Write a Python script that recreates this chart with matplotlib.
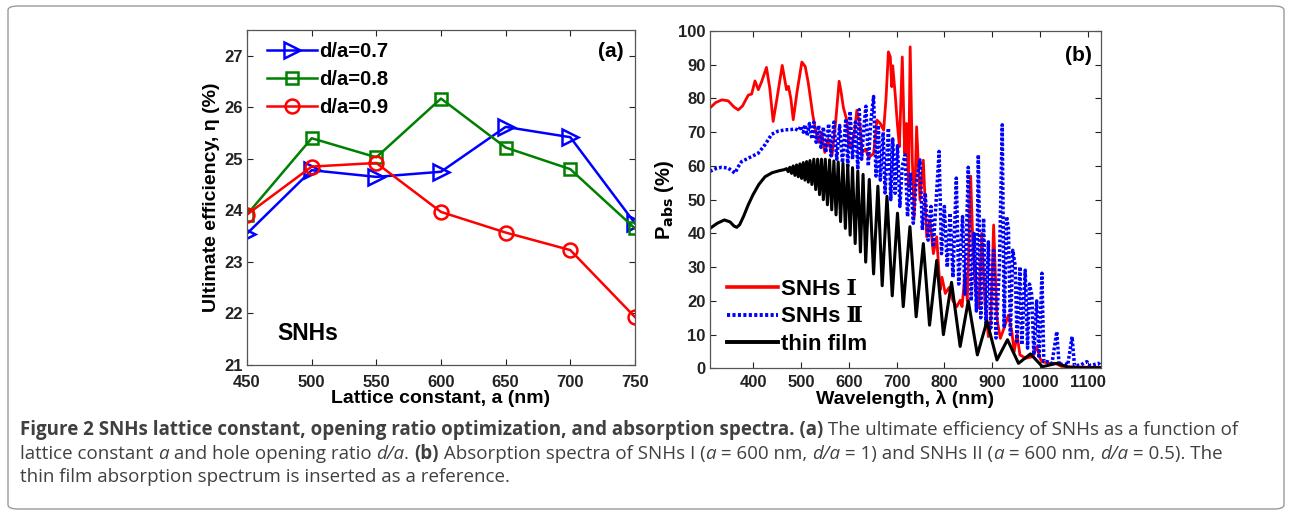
import matplotlib
matplotlib.use("Agg")
import matplotlib.pyplot as plt
from matplotlib.lines import Line2D
from matplotlib.patches import FancyBboxPatch

# ============= DATA: panel (a) =============
lattice = [450, 500, 550, 600, 650, 700, 750]
eff_07 = [23.55, 24.78, 24.65, 24.75, 25.62, 25.42, 23.75]
eff_08 = [23.92, 25.40, 25.03, 26.17, 25.22, 24.80, 23.65]
eff_09 = [23.92, 24.85, 24.92, 23.97, 23.57, 23.23, 21.93]

# ============= DATA: panel (b) =============
film_wl = [310, 325, 340, 352, 360, 366, 372, 380, 390, 400, 412, 425, 440, 455, 465,
           470, 473.5, 477, 480.5, 484, 487.5, 491, 494.5, 498, 501.5, 505, 508.5, 512, 515.5, 519,
           523, 527, 531, 535, 539, 543, 547, 551, 555.5, 560, 564.5, 569, 573.5, 578, 583,
           588, 593, 598, 603, 608, 613.5, 619, 624.5, 630, 635.5, 643, 652,
           661, 670, 680, 691, 702, 714, 728, 741, 756, 769, 784, 798, 815, 833, 850,
           869, 889, 910, 932, 955, 980, 1005, 1035, 1060, 1090, 1127]
film_abs = [41.5, 43.0, 44.0, 43.4, 42.2, 41.8, 42.6, 45.0, 48.5, 51.5, 54.5, 56.8, 58.0, 58.6, 58.9,
            59.2, 58.3, 59.6, 57.8, 60.0, 57.2, 60.3, 56.8, 60.6, 56.3, 61.0, 55.8, 61.3, 55.2, 61.6,
            54.5, 62.0, 53.0, 62.0, 51.5, 62.0, 50.0, 62.0, 48.5, 61.8, 47.0, 61.5, 45.5, 61.2, 43.5,
            60.8, 41.5, 60.2, 39.5, 59.5, 37.0, 58.5, 34.5, 57.5, 31.5, 56.0, 28.0,
            54.0, 24.5, 51.0, 21.5, 46.0, 18.3, 42.0, 15.3, 37.0, 12.8, 32.0, 10.0, 25.5, 6.5, 20.0,
            4.0, 14.0, 2.5, 8.5, 1.5, 4.3, 0.5, 1.5, 0.3, 0.2, 0.2]

snh1_wl = [310, 322, 335, 348, 360, 369, 378, 390, 397, 404, 411, 418, 428, 435, 442,
           450, 461, 467, 470, 474, 479, 484, 492, 502, 509, 515, 519, 525, 530, 537,
           543, 550, 557, 565, 572, 580, 584, 589, 596, 601, 606, 612, 617, 624, 627,
           635, 642, 652, 659, 666, 673, 678, 683, 687, 690, 692, 697, 702, 706, 712,
           717, 721, 725, 728.5, 733, 737, 742, 749, 756, 763, 770, 777, 784, 791, 795,
           802, 810, 818, 826, 833, 837, 843, 848, 855, 860, 866, 872, 878, 885, 892,
           897, 903, 910, 917, 925, 934, 941, 946, 952, 958, 970, 985, 993, 1000, 1004,
           1020, 1032, 1045, 1080, 1127]
snh1_abs = [77.2, 78.8, 79.6, 79.3, 77.5, 76.6, 77.8, 81.0, 81.3, 85.2, 82.6, 85.0, 89.2, 83.0, 73.2,
            80.0, 89.8, 85.0, 82.6, 83.6, 80.0, 73.7, 82.0, 90.8, 89.5, 85.0, 81.1, 75.0, 71.2, 67.0,
            70.0, 64.0, 68.0, 63.0, 72.0, 85.1, 82.0, 77.2, 73.6, 66.0, 65.7, 70.0, 76.5, 71.6, 63.7,
            65.0, 62.5, 63.7, 73.6, 72.6, 70.6, 80.0, 93.8, 92.3, 83.5, 89.7, 81.5, 72.0, 65.7, 92.3,
            63.7, 72.6, 53.8, 95.3, 61.7, 44.9, 71.6, 49.9, 61.7, 39.0, 44.0, 34.0, 39.0, 23.2, 27.0,
            22.2, 24.0, 20.0, 18.3, 20.2, 18.3, 28.0, 20.0, 57.0, 35.0, 22.0, 18.0, 40.0, 19.3, 9.4,
            14.0, 42.5, 14.8, 8.9, 12.0, 15.8, 10.9, 5.0, 10.0, 4.0, 3.0, 3.5, 6.5, 3.0, 2.0,
            1.5, 1.5, 0.6, 0.4, 0.3]

snh2_wl = [310, 322, 334, 348, 356, 362, 370, 376, 390, 400, 411, 425, 439, 452, 467,
           480, 488, 495, 500, 505, 509, 513, 518, 523, 527, 532, 537, 542, 547, 552,
           558, 563, 569, 575, 581, 587, 594, 598, 603, 608, 614, 619, 622, 627, 632,
           636, 641, 646, 652, 657, 662, 666, 672, 676, 683, 688, 692, 697, 702, 707,
           712, 718, 723, 729, 735, 741, 749, 754, 760, 766, 772, 777, 789, 794, 800,
           806, 812, 818, 825, 830, 838, 843, 850, 856, 862, 867, 871, 876, 882, 887,
           892, 897, 903, 908, 915, 921, 925, 930, 934, 938, 943, 948, 952, 958, 962,
           969, 974, 978, 983, 987, 993, 998, 1004, 1008, 1015, 1025, 1035, 1040, 1050, 1058,
           1067, 1072, 1085, 1098, 1105, 1122, 1127]
snh2_abs = [58.4, 59.2, 59.6, 59.4, 58.5, 57.9, 60.0, 61.3, 62.3, 63.0, 63.8, 66.3, 69.4, 70.3, 70.7,
            70.8, 71.0, 70.5, 71.8, 70.0, 72.2, 69.0, 72.6, 68.0, 73.0, 67.0, 72.0, 65.5, 71.5, 64.0,
            72.5, 63.0, 73.0, 62.0, 72.0, 61.0, 74.0, 60.0, 76.2, 62.0, 73.0, 59.0, 76.7, 62.0, 72.0,
            77.7, 60.0, 73.0, 80.6, 57.0, 72.0, 55.8, 70.0, 52.0, 71.2, 50.0, 68.0, 51.9, 66.0, 48.0,
            60.0, 63.3, 45.0, 58.0, 43.0, 55.0, 61.8, 41.0, 52.0, 38.0, 48.0, 36.0, 64.3, 34.0, 48.0,
            30.0, 46.0, 27.0, 56.4, 25.0, 45.0, 22.0, 59.6, 20.0, 40.0, 17.0, 63.3, 15.0, 44.5, 13.0,
            37.5, 12.0, 35.0, 9.0, 30.0, 72.2, 12.0, 45.0, 41.5, 10.0, 35.0, 30.6, 8.0, 30.1, 7.0,
            29.1, 6.0, 25.0, 21.7, 4.0, 20.0, 3.0, 28.2, 2.0, 2.0, 1.5, 10.9, 1.0, 1.5, 1.0,
            9.4, 0.8, 1.0, 2.0, 0.8, 1.5, 0.8]

# ============= STYLE =============
plt.rcParams['font.family'] = ['Liberation Sans', 'DejaVu Sans']
plt.rcParams['font.weight'] = 'bold'
plt.rcParams['axes.labelweight'] = 'bold'
plt.rcParams['mathtext.default'] = 'bf'

fig = plt.figure(figsize=(12.9, 5.14), dpi=100)

# rounded frame around the whole figure
frame = FancyBboxPatch((8 / 1290, 5 / 514), 1276 / 1290, 503 / 514,
                       boxstyle="round,pad=0,rounding_size=0.008",
                       transform=fig.transFigure, fc='none', ec='#9a9a9a', lw=1.0)
fig.patches.append(frame)


def style_axes(ax, xpad=3):
    ax.tick_params(direction='in', top=True, right=True, length=4, width=0.8,
                   labelsize=12, colors='#222222', pad=3)
    ax.tick_params(axis='x', pad=xpad)
    for lab in ax.get_xticklabels() + ax.get_yticklabels():
        lab.set_fontweight('bold')
    for sp in ax.spines.values():
        sp.set_color('#555555')
        sp.set_linewidth(0.9)


# ============= PANEL (a) =============
ax1 = fig.add_axes([0.1915, 0.2899, 0.3007, 0.6517])
ax1.plot(lattice, eff_07, color='#0000ff', lw=1.8, marker='>', ms=11, mfc='none', mew=1.8, label='d/a=0.7')
ax1.plot(lattice, eff_08, color='#008000', lw=1.8, marker='s', ms=8, mfc='none', mew=1.8, label='d/a=0.8')
ax1.plot(lattice, eff_09, color='#ff0000', lw=1.8, marker='o', ms=10, mfc='none', mew=1.8, label='d/a=0.9')
ax1.set_xlim(450, 750)
ax1.set_ylim(21, 27.5)
ax1.set_xticks(lattice)
ax1.set_yticks([21, 22, 23, 24, 25, 26, 27])
style_axes(ax1, xpad=7)
ax1.set_xlabel('Lattice constant, a (nm)', fontsize=14, labelpad=0)
ax1.set_ylabel('Ultimate efficiency, η (%)', fontsize=14, labelpad=3)
ax1.legend(loc='upper left', bbox_to_anchor=(0.02, 1.0), frameon=False, fontsize=14.5,
           handlelength=2.5, handletextpad=0.1, labelspacing=0.45, borderaxespad=0.2)
ax1.text(0.938, 0.936, '(a)', transform=ax1.transAxes, ha='center', va='center', fontsize=15)
ax1.text(0.077, 0.093, 'SNHs', transform=ax1.transAxes, ha='left', va='center', fontsize=16.5)

# ============= PANEL (b) =============
ax2 = fig.add_axes([0.5504, 0.2833, 0.3029, 0.6564])
ax2.plot(snh1_wl, snh1_abs, color='#ff0000', lw=2.0)
ax2.plot(snh2_wl, snh2_abs, color='#0000ff', lw=2.5, linestyle=(0, (0.8, 0.6)))
ax2.plot(film_wl, film_abs, color='black', lw=2.2)
ax2.set_xlim(310, 1127)
ax2.set_ylim(0, 100)
ax2.set_xticks([400, 500, 600, 700, 800, 900, 1000, 1100])
ax2.set_yticks(range(0, 101, 10))
style_axes(ax2, xpad=5)
ax2.set_xlabel('Wavelength, λ (nm)', fontsize=14, labelpad=0)
ax2.set_ylabel(r'P$_{\mathbf{abs}}$ (%)', fontsize=14.5, labelpad=2)
handles = [Line2D([], [], color='#ff0000', lw=2.6),
           Line2D([], [], color='#0000ff', lw=2.8, linestyle=(0, (0.8, 0.6))),
           Line2D([], [], color='black', lw=2.8)]
leg = ax2.legend(handles, ['SNHs Ⅰ', 'SNHs Ⅱ', 'thin film'], loc='lower left',
                 bbox_to_anchor=(0.01, 0.0), frameon=False,
                 handlelength=2.3, handletextpad=0.1, labelspacing=0.3, borderaxespad=0.2,
                 prop={'family': ['Liberation Sans', 'DejaVu Serif'], 'weight': 'bold', 'size': 16})
ax2.text(0.944, 0.926, '(b)', transform=ax2.transAxes, ha='center', va='center', fontsize=15)

# ============= CAPTION =============
cap_size = 13.5
cap_family = ['Open Sans', 'DejaVu Sans']
cap_color = '#404040'
line1 = [("Figure 2 SNHs lattice constant, opening ratio optimization, and absorption spectra. (a)", 'bold', 'normal'),
         (" The ultimate efficiency of SNHs as a function of", 'normal', 'normal')]
line2 = [("lattice constant ", 'normal', 'normal'), ("a", 'normal', 'italic'),
         (" and hole opening ratio ", 'normal', 'normal'), ("d/a", 'normal', 'italic'),
         (". ", 'normal', 'normal'), ("(b)", 'bold', 'normal'),
         (" Absorption spectra of SNHs I (", 'normal', 'normal'), ("a", 'normal', 'italic'),
         (" = 600 nm, ", 'normal', 'normal'), ("d/a", 'normal', 'italic'),
         (" = 1) and SNHs II (", 'normal', 'normal'), ("a", 'normal', 'italic'),
         (" = 600 nm, ", 'normal', 'normal'), ("d/a", 'normal', 'italic'),
         (" = 0.5). The", 'normal', 'normal')]
line3 = [("thin film absorption spectrum is inserted as a reference.", 'normal', 'normal')]

renderer = fig.canvas.get_renderer()
for runs, ypix in [(line1, 430), (line2, 454), (line3, 477)]:
    xpix = 20
    for s, weight, style in runs:
        t = fig.text(xpix / 1290, 1 - ypix / 514, s, fontsize=cap_size, family=cap_family,
                     fontweight=weight, fontstyle=style, color=cap_color, va='center', ha='left')
        xpix += t.get_window_extent(renderer).width

fig.savefig('out.png', dpi=100)
